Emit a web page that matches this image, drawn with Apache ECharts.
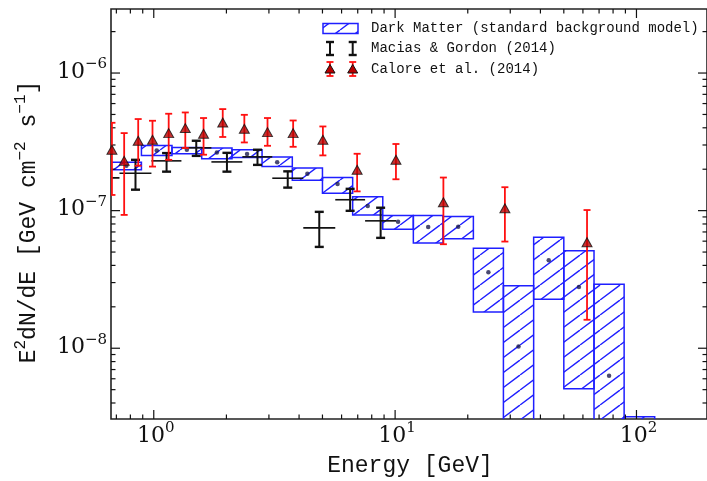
<!DOCTYPE html>
<html>
<head>
<meta charset="utf-8">
<script src="https://cdn.jsdelivr.net/npm/echarts@6/dist/echarts.min.js"></script>
<style>
  html, body { margin: 0; padding: 0; background: #fff; }
  #chart { width: 707px; height: 481px; }
</style>
</head>
<body>
<div id="chart"></div>
<script>
// ---- Dark Matter prediction: energy bins (GeV) and band limits ----
const dmEdges = [0.667, 0.889, 1.19, 1.58, 2.11, 2.81, 3.75, 5.00, 6.67, 8.89, 11.9, 15.8, 21.1, 28.1, 37.5, 50.0, 66.7, 88.9, 119];
const dmLow   = [1.98e-7, 2.52e-7, 2.59e-7, 2.38e-7, 2.43e-7, 2.09e-7, 1.66e-7, 1.34e-7, 9.31e-8, 7.33e-8, 5.81e-8, 6.24e-8, 1.83e-8, 1e-9, 2.27e-8, 5.08e-9, 1e-9, 1e-9];
const dmHigh  = [2.25e-7, 2.97e-7, 2.88e-7, 2.85e-7, 2.77e-7, 2.45e-7, 2.04e-7, 1.74e-7, 1.26e-7, 9.2e-8, 9.2e-8, 9.06e-8, 5.33e-8, 2.84e-8, 6.41e-8, 5.1e-8, 2.92e-8, 3.18e-9];
const dmMid   = [2.12e-7, 2.74e-7, 2.77e-7, 2.65e-7, 2.58e-7, 2.25e-7, 1.85e-7, 1.56e-7, 1.08e-7, 8.3e-8, 7.62e-8, 7.65e-8, 3.57e-8, 1.03e-8, 4.36e-8, 2.79e-8, 6.32e-9, null];

// ---- Macias & Gordon (2014) ----
const mgE    = [0.62, 0.84, 1.13, 1.50, 2.01, 2.69, 3.59, 4.85, 6.51, 8.71];
const mgElo  = [0.53, 0.721, 0.978, 1.302, 1.733, 2.328, 3.098, 4.164, 5.65, 7.51];
const mgEhi  = [0.721, 0.978, 1.302, 1.733, 2.328, 3.098, 4.164, 5.65, 7.51, 10.1];
const mgFlux = [1.73e-7, 1.87e-7, 2.30e-7, 2.86e-7, 2.26e-7, 2.46e-7, 1.72e-7, 7.49e-8, 1.20e-7, 8.43e-8];
const mgLo   = [1.45e-7, 1.42e-7, 1.92e-7, 2.50e-7, 1.92e-7, 2.15e-7, 1.47e-7, 5.45e-8, 9.97e-8, 6.34e-8];
const mgHi   = [2.00e-7, 2.34e-7, 2.62e-7, 3.22e-7, 2.63e-7, 2.77e-7, 1.93e-7, 9.80e-8, 1.44e-7, 1.05e-7];

// ---- Calore et al. (2014) ----
const caE    = [0.671, 0.754, 0.862, 0.988, 1.153, 1.351, 1.608, 1.931, 2.373, 2.96, 3.78, 5.02, 6.96, 10.08, 15.85, 28.5, 62.4];
const caFlux = [2.77e-7, 2.30e-7, 3.22e-7, 3.27e-7, 3.66e-7, 3.98e-7, 3.62e-7, 4.37e-7, 3.94e-7, 3.72e-7, 3.66e-7, 3.27e-7, 1.98e-7, 2.34e-7, 1.15e-7, 1.04e-7, 5.9e-8];
const caLo   = [1.30e-7, 9.31e-8, 2.12e-7, 2.09e-7, 2.34e-7, 2.85e-7, 2.55e-7, 3.43e-7, 3.13e-7, 2.96e-7, 2.91e-7, 2.52e-7, 1.38e-7, 1.69e-7, 5.70e-8, 5.96e-8, 1.61e-8];
const caHi   = [4.35e-7, 3.66e-7, 4.63e-7, 4.50e-7, 5.06e-7, 5.17e-7, 4.71e-7, 5.47e-7, 4.97e-7, 4.71e-7, 4.52e-7, 4.09e-7, 2.59e-7, 3.05e-7, 1.74e-7, 1.48e-7, 1.01e-7];

// ---- Axis ranges and decade ticks ----
const xRange = [0.665, 196];
const yRange = [3.06e-9, 2.92e-6];
const xMajorTicks = [1, 10, 100];
const yMajorTicks = [1e-8, 1e-7, 1e-6];
const minorSteps = [2, 3, 4, 5, 6, 7, 8, 9];

function minorTicks(range) {
  const out = [];
  const d0 = Math.floor(Math.log10(range[0])), d1 = Math.ceil(Math.log10(range[1]));
  for (let d = d0; d <= d1; d++) {
    for (const m of minorSteps) {
      const v = m * Math.pow(10, d);
      if (v > range[0] && v < range[1]) out.push(v);
    }
  }
  return out;
}
const xMinorTicks = minorTicks(xRange);
const yMinorTicks = minorTicks(yRange);

const BLUE = '#1f1fff';
const RED = '#ff1010';
const INK = '#111';
const MONO = '"Liberation Mono", "DejaVu Sans Mono", monospace';
const SERIF = '"DejaVu Serif", serif';

// diagonal hatch tile used to fill the model bands
function hatchTile() {
  const w = 20, h = 15;
  const c = document.createElement('canvas');
  c.width = w; c.height = h;
  const g = c.getContext('2d');
  g.strokeStyle = BLUE;
  g.lineWidth = 1.4;
  g.beginPath();
  g.moveTo(0, h); g.lineTo(w, 0);
  g.moveTo(-w, h); g.lineTo(0, 0);
  g.moveTo(w, h); g.lineTo(2 * w, 0);
  g.moveTo(-w / 2, h * 1.5); g.lineTo(w / 2, h * 0.5);
  g.stroke();
  return c;
}
const hatch = { image: hatchTile(), repeat: 'repeat' };

const supExp = e => (e < 0 ? '\u2212' + (-e) : String(e));
const tickRich = {
  b: { fontFamily: SERIF, fontSize: 22, lineHeight: 24, verticalAlign: 'bottom', fill: INK },
  s: { fontFamily: SERIF, fontSize: 15, lineHeight: 15, verticalAlign: 'bottom', padding: [0, 0, 11, 0], fill: INK }
};

const chart = echarts.init(document.getElementById('chart'), null, { renderer: 'canvas' });

const dmRows = dmLow.map((lo, i) => [dmEdges[i], dmEdges[i + 1], lo, dmHigh[i]]);
const dmDots = [];
dmMid.forEach((v, i) => {
  if (v != null) dmDots.push([Math.sqrt(dmEdges[i] * dmEdges[i + 1]), v]);
});
const mgRows = mgE.map((e, i) => [e, mgFlux[i], mgElo[i], mgEhi[i], mgLo[i], mgHi[i]]);
const caRows = caE.map((e, i) => [e, caFlux[i], caLo[i], caHi[i]]);

function line(x1, y1, x2, y2, color, w) {
  return { type: 'line', shape: { x1, y1, x2, y2 }, style: { stroke: color, lineWidth: w } };
}

// tick marks drawn inward on all four sides
function xTickSeries(values, len) {
  return {
    type: 'custom', silent: true, clip: false, z: 5,
    data: values.map(v => [v, 1e-7]),
    encode: { x: 0, y: 1 },
    renderItem: (params, api) => {
      const cs = params.coordSys;
      const x = api.coord([api.value(0), 1e-7])[0];
      const b = cs.y + cs.height;
      return { type: 'group', children: [
        line(x, b, x, b - len, INK, 1.2),
        line(x, cs.y, x, cs.y + len, INK, 1.2)
      ] };
    }
  };
}
function yTickSeries(values, len) {
  return {
    type: 'custom', silent: true, clip: false, z: 5,
    data: values.map(v => [1, v]),
    encode: { x: 0, y: 1 },
    renderItem: (params, api) => {
      const cs = params.coordSys;
      const y = api.coord([1, api.value(1)])[1];
      const r = cs.x + cs.width;
      return { type: 'group', children: [
        line(cs.x, y, cs.x + len, y, INK, 1.2),
        line(r, y, r - len, y, INK, 1.2)
      ] };
    }
  };
}

const option = {
  animation: false,
  backgroundColor: '#fff',
  grid: { left: 111, top: 9, width: 597, height: 410, show: true, borderColor: '#222', borderWidth: 1.6, backgroundColor: 'transparent' },
  xAxis: {
    type: 'log', logBase: 10, min: xRange[0], max: xRange[1],
    axisLine: { show: false }, axisTick: { show: false }, axisLabel: { show: false }, splitLine: { show: false }
  },
  yAxis: {
    type: 'log', logBase: 10, min: yRange[0], max: yRange[1],
    axisLine: { show: false }, axisTick: { show: false }, axisLabel: { show: false }, splitLine: { show: false }
  },
  series: [
    {
      name: 'Dark Matter (standard background model)',
      type: 'custom', clip: true, z: 2,
      data: dmRows,
      encode: { x: [0, 1], y: [2, 3] },
      renderItem: (params, api) => {
        const p0 = api.coord([api.value(0), api.value(3)]);
        const p1 = api.coord([api.value(1), api.value(2)]);
        return {
          type: 'rect',
          shape: { x: p0[0], y: p0[1], width: p1[0] - p0[0], height: p1[1] - p0[1] },
          style: { fill: hatch, stroke: BLUE, lineWidth: 1.5 }
        };
      }
    },
    {
      type: 'scatter', z: 3, symbol: 'circle', symbolSize: 4.5,
      itemStyle: { color: '#1c1c4e' },
      data: dmDots
    },
    {
      name: 'Macias & Gordon (2014)',
      type: 'custom', clip: true, z: 4,
      data: mgRows,
      encode: { x: 0, y: 1 },
      renderItem: (params, api) => {
        const c = api.coord([api.value(0), api.value(1)]);
        const l = api.coord([api.value(2), api.value(1)]);
        const r = api.coord([api.value(3), api.value(1)]);
        const lo = api.coord([api.value(0), api.value(4)]);
        const hi = api.coord([api.value(0), api.value(5)]);
        const cap = 4.5;
        return { type: 'group', children: [
          line(l[0], c[1], r[0], c[1], INK, 1.6),
          line(c[0], lo[1], c[0], hi[1], INK, 2),
          line(c[0] - cap, lo[1], c[0] + cap, lo[1], INK, 2.4),
          line(c[0] - cap, hi[1], c[0] + cap, hi[1], INK, 2.4)
        ] };
      }
    },
    {
      name: 'Calore et al. (2014)',
      type: 'custom', clip: true, z: 6,
      data: caRows,
      encode: { x: 0, y: 1 },
      renderItem: (params, api) => {
        const lo = api.coord([api.value(0), api.value(2)]);
        const hi = api.coord([api.value(0), api.value(3)]);
        const cap = 3.5;
        return { type: 'group', children: [
          line(lo[0], lo[1], hi[0], hi[1], RED, 1.8),
          line(lo[0] - cap, lo[1], lo[0] + cap, lo[1], RED, 1.8),
          line(hi[0] - cap, hi[1], hi[0] + cap, hi[1], RED, 1.8)
        ] };
      }
    },
    {
      type: 'scatter', z: 7, symbol: 'triangle', symbolSize: [10, 9], clip: true,
      itemStyle: { color: '#b80000', borderColor: '#111', borderWidth: 1 },
      data: caRows.map(r => [r[0], r[1]])
    },
    xTickSeries(xMajorTicks, 9),
    xTickSeries(xMinorTicks, 4.5),
    yTickSeries(yMajorTicks, 9),
    yTickSeries(yMinorTicks, 4.5),
    {
      // decade labels under the energy axis
      type: 'custom', silent: true, clip: false, z: 5,
      data: xMajorTicks.map(v => [v, 1e-7]),
      encode: { x: 0, y: 1 },
      renderItem: (params, api) => {
        const cs = params.coordSys;
        const v = api.value(0);
        const x = api.coord([v, 1e-7])[0];
        const e = Math.round(Math.log10(v));
        return { type: 'text', x: x + 2, y: cs.y + cs.height + 4,
          style: { text: '{b|10}{s|' + supExp(e) + '}', rich: tickRich, align: 'center', verticalAlign: 'top' } };
      }
    },
    {
      // decade labels beside the flux axis
      type: 'custom', silent: true, clip: false, z: 5,
      data: yMajorTicks.map(v => [1, v]),
      encode: { x: 0, y: 1 },
      renderItem: (params, api) => {
        const cs = params.coordSys;
        const v = api.value(1);
        const y = api.coord([1, v])[1];
        const e = Math.round(Math.log10(v));
        return { type: 'text', x: cs.x - 4, y: y - 2,
          style: { text: '{b|10}{s|' + supExp(e) + '}', rich: tickRich, align: 'right', verticalAlign: 'middle' } };
      }
    }
  ],
  graphic: [
    // axis titles
    { type: 'text', x: 410, y: 466,
      style: { text: 'Energy [GeV]', font: '23px ' + MONO, fill: INK, align: 'center', verticalAlign: 'middle' } },
    { type: 'text', x: 27, y: 222, rotation: Math.PI / 2,
      style: {
        text: '{t|E}{u|2}{t|dN/dE [GeV cm}{u|\u22122}{t| s}{u|\u22121}{t|]}',
        align: 'center', verticalAlign: 'middle',
        rich: {
          t: { fontFamily: MONO, fontSize: 23, lineHeight: 26, verticalAlign: 'bottom', fill: INK },
          u: { fontFamily: MONO, fontSize: 16, lineHeight: 16, verticalAlign: 'bottom', padding: [0, 0, 11, 0], fill: INK }
        }
      } },
    // legend: hatched band
    { type: 'rect', shape: { x: 323, y: 23.5, width: 35, height: 10 },
      style: { fill: hatch, stroke: BLUE, lineWidth: 1.5 } },
    { type: 'text', x: 371, y: 28.5,
      style: { text: 'Dark Matter (standard background model)', font: '14px ' + MONO, fill: INK, align: 'left', verticalAlign: 'middle' } },
    // legend: Macias & Gordon error bars
    { type: 'group', children: [330, 352.7].map(x => ({
      type: 'group', children: [
        { type: 'line', shape: { x1: x, y1: 42, x2: x, y2: 55 }, style: { stroke: INK, lineWidth: 2 } },
        { type: 'line', shape: { x1: x - 4, y1: 42, x2: x + 4, y2: 42 }, style: { stroke: INK, lineWidth: 2.4 } },
        { type: 'line', shape: { x1: x - 4, y1: 55, x2: x + 4, y2: 55 }, style: { stroke: INK, lineWidth: 2.4 } }
      ] })) },
    { type: 'text', x: 371, y: 48,
      style: { text: 'Macias & Gordon (2014)', font: '14px ' + MONO, fill: INK, align: 'left', verticalAlign: 'middle' } },
    // legend: Calore et al. markers
    { type: 'group', children: [330, 352.7].map(x => ({
      type: 'group', children: [
        { type: 'line', shape: { x1: x, y1: 62, x2: x, y2: 76 }, style: { stroke: RED, lineWidth: 1.8 } },
        { type: 'line', shape: { x1: x - 3.5, y1: 62, x2: x + 3.5, y2: 62 }, style: { stroke: RED, lineWidth: 1.8 } },
        { type: 'line', shape: { x1: x - 3.5, y1: 76, x2: x + 3.5, y2: 76 }, style: { stroke: RED, lineWidth: 1.8 } },
        { type: 'polygon', shape: { points: [[x, 64.5], [x + 5, 73], [x - 5, 73]] },
          style: { fill: '#b80000', stroke: '#111', lineWidth: 1 } }
      ] })) },
    { type: 'text', x: 371, y: 69,
      style: { text: 'Calore et al. (2014)', font: '14px ' + MONO, fill: INK, align: 'left', verticalAlign: 'middle' } }
  ]
};

chart.setOption(option);
</script>
</body>
</html>
